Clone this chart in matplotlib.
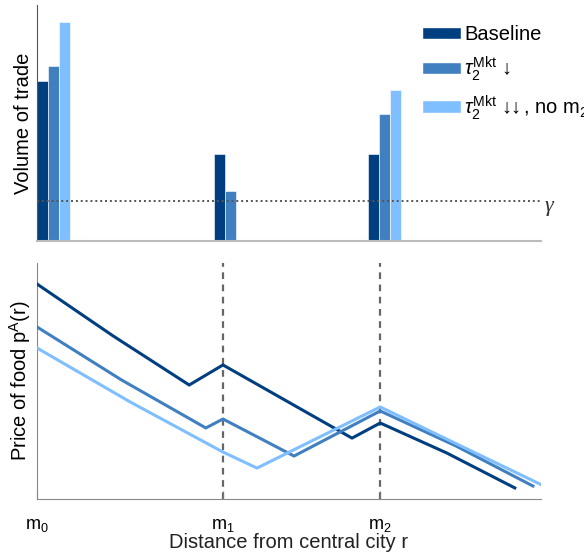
import matplotlib
matplotlib.use("Agg")
import matplotlib.pyplot as plt
from matplotlib.patches import Patch

plt.rcParams['font.family'] = ['Liberation Sans', 'DejaVu Sans']
plt.rcParams['mathtext.fontset'] = 'custom'
plt.rcParams['mathtext.rm'] = 'Liberation Sans'
plt.rcParams['mathtext.it'] = 'Liberation Sans:italic'
plt.rcParams['mathtext.bf'] = 'Liberation Sans:bold'

# ---------------- data ----------------
series_names = ["Baseline",
                r"$\mathit{\tau}_2^{\mathrm{Mkt}}\,\downarrow$",
                r"$\mathit{\tau}_2^{\mathrm{Mkt}}\,\downarrow\!\!\!\downarrow$, no m$_2$"]
colors = ["#003F7F", "#4080C0", "#80BFFF"]

# market locations (distance from central city, arbitrary units)
market_pos = [0.0, 36.9, 68.1]
market_labels = [r"$\mathrm{m}_0$", r"$\mathrm{m}_1$", r"$\mathrm{m}_2$"]

# bar group positions (first bar centre) and volumes of trade
bar_sites = [1.09, 36.2, 66.8]
vol_baseline = [0.68, 0.37, 0.37]
vol_mkt_down = [0.74, 0.21, 0.54]
vol_mkt_down2 = [0.93, 0.0, 0.64]
gamma = 0.17

# price of food curves
r_base = [0.0, 15.1, 30.2, 36.9, 62.5, 68.1, 81.3, 94.8]
p_base = [0.911, 0.691, 0.483, 0.568, 0.258, 0.322, 0.195, 0.047]
r_mkt = [0.0, 16.8, 33.5, 36.9, 51.0, 68.1, 83.1, 98.4]
p_mkt = [0.729, 0.504, 0.301, 0.339, 0.182, 0.373, 0.225, 0.055]
r_mkt2 = [0.0, 18.5, 36.9, 43.65, 68.1, 83.3, 100.2]
p_mkt2 = [0.640, 0.411, 0.199, 0.131, 0.390, 0.233, 0.059]

# ---------------- figure ----------------
fig = plt.figure(figsize=(5.84, 5.58), dpi=100)
ax1 = fig.add_axes([37/584, 1-241/558, 504/584, 236/558])
ax2 = fig.add_axes([37/584, 1-499/558, 504/584, 236/558])

bw = 2.18
vols = [vol_baseline, vol_mkt_down, vol_mkt_down2]
for k, (v, c) in enumerate(zip(vols, colors)):
    xs = [s + k*bw for s in bar_sites]
    ax1.bar(xs, v, width=bw, color=c, edgecolor='white', linewidth=0.4)

ax1.axhline(gamma, color='#555555', linestyle=(0, (1, 1.5)), linewidth=1.4)
ax1.annotate("γ", xy=(100.4, gamma), xycoords='data', xytext=(1, -4),
             textcoords='offset points', fontsize=16, va='center', ha='left',
             color='#333333', family='Liberation Serif', style='italic',
             annotation_clip=False)
ax1.set_xlim(0, 100)
ax1.set_ylim(0, 1.0)
ax1.set_xticks([])
ax1.set_yticks([])
for s in ['top', 'right']:
    ax1.spines[s].set_visible(False)
ax1.spines['left'].set_color('#555555')
ax1.spines['bottom'].set_color('#BBBBBB')
ax1.spines['bottom'].set_linewidth(1.5)
ax1.set_ylabel("Volume of trade", fontsize=14.5, labelpad=3)

handles = [Patch(facecolor=c, edgecolor='white') for c in colors]
fig.legend(handles, series_names, loc='upper left',
           bbox_to_anchor=(414/584, 1-17/558), frameon=False, fontsize=14.5,
           handlelength=1.95, handleheight=0.55, handletextpad=0.15,
           labelspacing=0.5, borderaxespad=0)

# lower panel
for xm in market_pos[1:]:
    ax2.axvline(xm, color='#666666', linestyle=(0, (3, 2.5)), linewidth=1.6, zorder=1)
ax2.plot(r_base, p_base, color=colors[0], linewidth=2.2, zorder=3)
ax2.plot(r_mkt, p_mkt, color=colors[1], linewidth=2.2, zorder=3)
ax2.plot(r_mkt2, p_mkt2, color=colors[2], linewidth=2.2, zorder=3)
ax2.set_xlim(0, 100)
ax2.set_ylim(0, 1.0)
ax2.set_yticks([])
ax2.set_xticks(market_pos)
ax2.set_xticklabels(market_labels, fontsize=13)
ax2.tick_params(axis='x', direction='in', length=6, color='#777777', pad=13)
for s in ['top', 'right']:
    ax2.spines[s].set_visible(False)
ax2.spines['left'].set_color('#888888')
ax2.spines['bottom'].set_color('#888888')
ax2.set_ylabel(r"Price of food p$^\mathrm{A}$(r)", fontsize=14.5, labelpad=3)
ax2.set_xlabel("Distance from central city r", fontsize=14.5, labelpad=-0.5, color='#222222')

fig.savefig("out.png", dpi=100)
